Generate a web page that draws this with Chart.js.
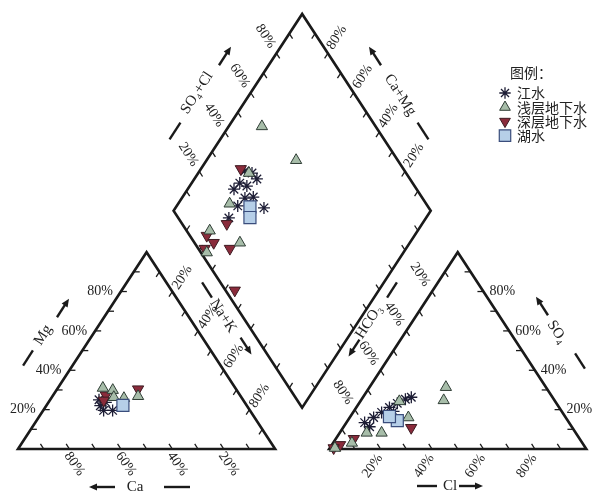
<!DOCTYPE html>
<html>
<head>
<meta charset="utf-8">
<script src="https://cdn.jsdelivr.net/npm/chart.js@4.4.1/dist/chart.umd.min.js"></script>
<style>
  html, body { margin: 0; padding: 0; background: #fff; }
  canvas { display: block; }
</style>
</head>
<body>
<canvas id="piper" width="596" height="495"></canvas>
<script>
// legend names
var groupNames = ['江水', '浅层地下水', '深层地下水', '湖水'];

// cation triangle, [Mg %, Na+K %]
var riverCation = [[23.7, 22.3], [19.6, 23.5], [19.6, 27.0], [22.0, 21.0], [25.0, 19.0]];
var shallowCation = [[29.9, 21.9], [26.3, 24.1], [25.8, 28.3], [26.8, 33.3], [31.0, 17.5]];
var deepCation = [[30.4, 31.5], [27.3, 20.5], [24.7, 21.0]];
var lakeCation = [[22.2, 29.7]];

// anion triangle, [SO4 %, Cl %]
var riverAnion = [[13.4, 7.1], [16.0, 9.3], [18.6, 11.1], [21.1, 12.9], [23.2, 14.9], [25.3, 17.0], [26.3, 18.8], [11.3, 10.1], [19.1, 15.5]];
var shallowAnion = [[31.4, 29.7], [24.7, 32.2], [24.2, 15.2], [16.0, 22.8], [8.2, 16.3], [8.2, 10.5], [3.1, 7.3], [0.5, 2.0]];
var deepAnion = [[10.8, 26.5], [5.2, 7.0], [2.1, 3.2], [0.5, 1.5]];
var lakeAnion = [[14.4, 19.3], [16.5, 15.2]];

// diamond, [Ca+Mg %, SO4+Cl %]
var riverDiamond = [[82.4, 37.8], [75.7, 40.5], [82.0, 29.0], [77.8, 34.8], [75.5, 31.0], [65.6, 35.9], [76.7, 19.7], [76.3, 26.2], [79.1, 40.1], [81.3, 32.8], [72.5, 34.5]];
var shallowDiamond = [[87.1, 55.8], [65.2, 60.5], [80.3, 38.9], [80.0, 23.6], [80.9, 9.0], [76.5, 2.3], [66.1, 17.7]];
var deepDiamond = [[84.5, 36.8], [76.0, 17.4], [80.8, 6.6], [76.3, 7.5], [68.5, 12.3], [56.0, 3.6], [78.3, 2.5]];
var lakeDiamond = [[71.3, 30.7], [68.6, 28.0]];

var tickLabels = [20, 40, 60, 80];

// piper geometry (triangle side = 1)
var GAP = 0.21, H = Math.sqrt(3) / 2;

function cationXY(p) { var m = p[0] / 100, n = p[1] / 100; return { x: n + m / 2, y: m * H }; }
function anionXY(p) { var s = p[0] / 100, c = p[1] / 100; return { x: 1 + GAP + c + s / 2, y: s * H }; }
function diamondXY(p) { var a = p[0] / 100, s = p[1] / 100; return { x: 1 + GAP / 2 + (s - a) / 2, y: GAP * H + (a + s) * H }; }
function allPoints(cat, an, dia) { return cat.map(cationXY).concat(an.map(anionXY), dia.map(diamondXY)); }

var SERIF = '"Liberation Serif", "DejaVu Serif", serif';
var CJK = '"Noto Sans CJK SC", sans-serif';

// edges: f(v) -> point in units, d = inward tick direction in units
var edges = [
  { f: function (v) { return cationXY([v * 100, 0]); }, d: { x: 1, y: 0 } },                  // Mg
  { f: function (v) { return cationXY([0, 100 - v * 100]); }, d: { x: -0.5, y: H } },         // Ca (base)
  { f: function (v) { return cationXY([100 - v * 100, v * 100]); }, d: { x: -0.5, y: -H } },  // Na+K
  { f: function (v) { return anionXY([100 - v * 100, 0]); }, d: { x: 0.5, y: -H } },          // HCO3
  { f: function (v) { return anionXY([v * 100, 100 - v * 100]); }, d: { x: -1, y: 0 } },      // SO4
  { f: function (v) { return anionXY([0, v * 100]); }, d: { x: -0.5, y: H } },                // Cl
  { f: function (v) { return diamondXY([100, v * 100]); }, d: { x: 0.5, y: -H } },            // SO4+Cl
  { f: function (v) { return diamondXY([v * 100, 100]); }, d: { x: -0.5, y: -H } },           // Ca+Mg
  { f: function (v) { return diamondXY([v * 100, 0]); }, d: { x: 0.5, y: H } },
  { f: function (v) { return diamondXY([0, v * 100]); }, d: { x: -0.5, y: H } }
];

// label placement per edge
var edgeLabels = [
  { e: 0, dx: -8, dy: 0, rot: 0, align: 'right' },
  { e: 1, dx: 5, dy: 15, rot: 55, align: 'center' },
  { e: 2, dx: 10, dy: -14, rot: -57, align: 'center' },
  { e: 3, dx: -12, dy: -17, rot: 57, align: 'center' },
  { e: 4, dx: 6, dy: 0, rot: 0, align: 'left' },
  { e: 5, dx: -8, dy: 17, rot: -55, align: 'center' },
  { e: 6, dx: -11, dy: -17, rot: 57, align: 'center' },
  { e: 7, dx: 9, dy: -16, rot: -57, align: 'center' }
];

// axis titles with dash and arrow (pixel layout)
var titles = [
  { text: 'Mg', x: 43, y: 335, rot: -57, dash: [28, 358, -57, 18], arrow: [63, 308, -57, 22] },
  { text: 'Ca', x: 135, y: 487, rot: 0, dash: [177, 487, 0, 26], arrow: [102, 487, 180, 26] },
  { text: 'Na+K', x: 223, y: 316, rot: 57, dash: [207, 290, 57, 18], arrow: [246, 346, 57, 20] },
  { text: 'SO\u2084+Cl', x: 197, y: 93, rot: -57, dash: [175, 131, -57, 20], arrow: [225, 56, -57, 22] },
  { text: 'Ca+Mg', x: 400, y: 95, rot: 57, dash: [423, 131, 57, 20], arrow: [375, 56, -123, 22] },
  { text: 'HCO\u2083', x: 369, y: 322, rot: -57, dash: [392, 290, -57, 18], arrow: [354, 348, 123, 20] },
  { text: 'SO\u2084', x: 557, y: 332, rot: 57, dash: [580, 361, 57, 18], arrow: [542, 306, -123, 22] },
  { text: 'Cl', x: 450, y: 486, rot: 0, dash: [427, 486, 0, 20], arrow: [471, 486, 0, 24] }
];

var styles = [
  { pointStyle: 'star', radius: 6, rotation: 0, fill: '#1d1d35', stroke: '#1d1d35', width: 1.3 },
  { pointStyle: 'triangle', radius: 6.5, rotation: 0, fill: '#a7bda9', stroke: '#2f3d35', width: 1 },
  { pointStyle: 'triangle', radius: 6.5, rotation: 180, fill: '#8a2b3b', stroke: '#3d1b22', width: 1 },
  { pointStyle: 'rect', radius: 8.5, rotation: 0, fill: '#b6cfe8', stroke: '#3a4d7c', width: 1.2 }
];

function drawText(ctx, text, x, y, rot, align, font) {
  ctx.save();
  ctx.translate(x, y);
  ctx.rotate(rot * Math.PI / 180);
  ctx.font = font;
  ctx.fillStyle = '#222';
  ctx.textAlign = align;
  ctx.textBaseline = 'middle';
  ctx.fillText(text, 0, 0);
  ctx.restore();
}

function drawDash(ctx, cx, cy, ang, len) {
  var r = ang * Math.PI / 180, ux = Math.cos(r), uy = Math.sin(r);
  ctx.beginPath();
  ctx.moveTo(cx - ux * len / 2, cy - uy * len / 2);
  ctx.lineTo(cx + ux * len / 2, cy + uy * len / 2);
  ctx.stroke();
}

function drawArrow(ctx, cx, cy, ang, len) {
  var r = ang * Math.PI / 180, ux = Math.cos(r), uy = Math.sin(r);
  var hx = cx + ux * len / 2, hy = cy + uy * len / 2;
  ctx.beginPath();
  ctx.moveTo(cx - ux * len / 2, cy - uy * len / 2);
  ctx.lineTo(hx - ux * 5, hy - uy * 5);
  ctx.stroke();
  ctx.beginPath();
  ctx.moveTo(hx, hy);
  ctx.lineTo(hx - ux * 8 - uy * 3.5, hy - uy * 8 + ux * 3.5);
  ctx.lineTo(hx - ux * 8 + uy * 3.5, hy - uy * 8 - ux * 3.5);
  ctx.closePath();
  ctx.fill();
}

var piperFrame = {
  id: 'piperFrame',
  beforeDraw: function (chart) {
    var ctx = chart.ctx;
    ctx.save();
    ctx.fillStyle = '#fff';
    ctx.fillRect(0, 0, chart.width, chart.height);
    ctx.restore();
  },
  beforeDatasetsDraw: function (chart) {
    var ctx = chart.ctx, xs = chart.scales.x, ys = chart.scales.y;
    var kx = xs.getPixelForValue(1) - xs.getPixelForValue(0);
    var ky = ys.getPixelForValue(0) - ys.getPixelForValue(1);
    function P(u) { return [xs.getPixelForValue(u.x), ys.getPixelForValue(u.y)]; }

    ctx.save();
    ctx.strokeStyle = '#1a1a1a';
    ctx.fillStyle = '#1a1a1a';
    ctx.lineCap = 'round';
    ctx.lineJoin = 'miter';

    // outlines
    ctx.lineWidth = 2.6;
    var shapes = [
      [cationXY([0, 0]), cationXY([0, 100]), cationXY([100, 0])],
      [anionXY([0, 0]), anionXY([0, 100]), anionXY([100, 0])],
      [diamondXY([0, 0]), diamondXY([100, 0]), diamondXY([100, 100]), diamondXY([0, 100])]
    ];
    shapes.forEach(function (s) {
      ctx.beginPath();
      s.forEach(function (u, i) { var p = P(u); if (i) ctx.lineTo(p[0], p[1]); else ctx.moveTo(p[0], p[1]); });
      ctx.closePath();
      ctx.stroke();
    });

    // ticks every 10 %
    ctx.lineWidth = 1.3;
    ctx.lineCap = 'butt';
    edges.forEach(function (e) {
      var dx = e.d.x * kx, dy = -e.d.y * ky, n = Math.sqrt(dx * dx + dy * dy);
      dx = dx / n * 6; dy = dy / n * 6;
      for (var i = 1; i < 10; i++) {
        var p = P(e.f(i / 10));
        ctx.beginPath();
        ctx.moveTo(p[0], p[1]);
        ctx.lineTo(p[0] + dx, p[1] + dy);
        ctx.stroke();
      }
    });

    // percent labels
    edgeLabels.forEach(function (l) {
      tickLabels.forEach(function (t) {
        var p = P(edges[l.e].f(t / 100));
        drawText(ctx, t + '%', p[0] + l.dx, p[1] + l.dy, l.rot, l.align, '14px ' + SERIF);
      });
    });

    // titles
    ctx.lineWidth = 2.4;
    titles.forEach(function (t) {
      drawText(ctx, t.text, t.x, t.y, t.rot, 'center', '15px ' + SERIF);
      drawDash(ctx, t.dash[0], t.dash[1], t.dash[2], t.dash[3]);
      drawArrow(ctx, t.arrow[0], t.arrow[1], t.arrow[2], t.arrow[3]);
    });
    ctx.restore();
  },
  afterDraw: function (chart) {
    var ctx = chart.ctx;
    ctx.save();
    drawText(ctx, '图例：', 510, 73, 0, 'left', '14px ' + CJK);
    groupNames.forEach(function (name, i) {
      var y = 93 + i * 14.2, s = styles[i];
      ctx.fillStyle = s.fill;
      ctx.strokeStyle = s.stroke;
      ctx.lineWidth = s.width;
      Chart.helpers.drawPoint(ctx, { pointStyle: s.pointStyle, radius: s.radius * 0.95, rotation: s.rotation, borderWidth: s.width }, 505, y);
      drawText(ctx, name, 517, y, 0, 'left', '14px ' + CJK);
    });
    ctx.restore();
  }
};

var groupData = [
  allPoints(riverCation, riverAnion, riverDiamond),
  allPoints(shallowCation, shallowAnion, shallowDiamond),
  allPoints(deepCation, deepAnion, deepDiamond),
  allPoints(lakeCation, lakeAnion, lakeDiamond)
];
var drawOrder = [3, 1, 2, 0];

var piperChart = new Chart(document.getElementById('piper'), {
  type: 'scatter',
  data: {
    datasets: groupNames.map(function (name, i) {
      var s = styles[i];
      return {
        label: name,
        data: groupData[i],
        order: drawOrder[i],
        clip: false,
        pointStyle: s.pointStyle,
        pointRadius: s.radius,
        pointRotation: s.rotation,
        pointBackgroundColor: s.fill,
        pointBorderColor: s.stroke,
        pointBorderWidth: s.width,
        backgroundColor: s.fill,
        borderColor: s.stroke
      };
    })
  },
  options: {
    animation: false,
    responsive: false,
    devicePixelRatio: 1,
    events: [],
    layout: { padding: { left: 18, right: 9, top: 14, bottom: 46 } },
    plugins: { legend: { display: false }, tooltip: { enabled: false } },
    scales: {
      x: { type: 'linear', min: 0, max: 2 + GAP, display: false },
      y: { type: 'linear', min: 0, max: (2 + GAP) * H, display: false }
    }
  },
  plugins: [piperFrame]
});
</script>
</body>
</html>
